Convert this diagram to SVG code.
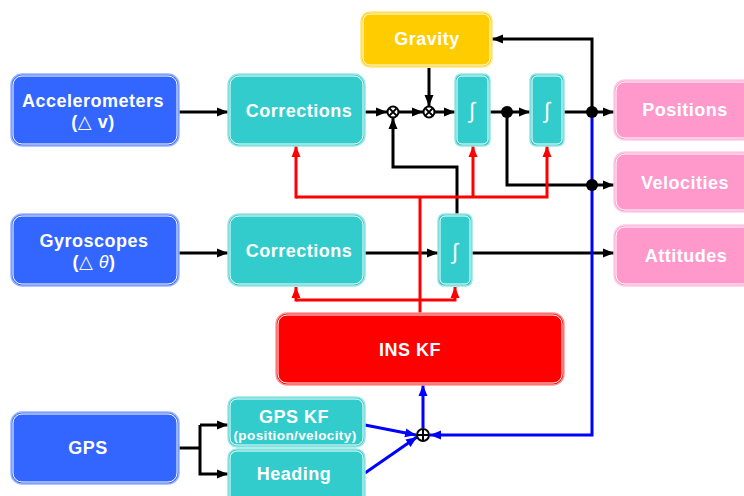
<svg xmlns="http://www.w3.org/2000/svg" width="744" height="496" viewBox="0 0 744 496">
<style>
.t{font-family:"Liberation Sans",Arial,"DejaVu Sans",sans-serif;font-weight:bold;fill:#fff;text-anchor:middle;font-size:18px;letter-spacing:0.5px}
.s{font-size:13.5px;letter-spacing:0.4px}
.int{font-family:"Liberation Sans",Arial,sans-serif;fill:#fff;text-anchor:middle;font-size:22px;font-weight:normal}
.in{fill:none;stroke:#fff;stroke-width:1}
.blue{fill:#3366FF;stroke:#99B3FF;stroke-width:1.5}
.teal{fill:#33CCCC;stroke:#99E6E6;stroke-width:1.5}
.gold{fill:#FFCC00;stroke:#FFE680;stroke-width:1.5}
.pink{fill:#FF99CC;stroke:#FFCCE6;stroke-width:1.5}
.red{fill:#FF0000;stroke:#FF9999;stroke-width:1.5}
.k{fill:none;stroke:#000;stroke-width:3}
.r{fill:none;stroke:#FF0000;stroke-width:3}
.b{fill:none;stroke:#0000FF;stroke-width:3}
.op{fill:#fff;stroke:#000;stroke-width:2}
</style>
<defs>
<marker id="ak" markerUnits="userSpaceOnUse" markerWidth="11" markerHeight="10" refX="11" refY="5" orient="auto"><path d="M0,0.5 L11,5 L0,9.5 z" fill="#000"/></marker>
<marker id="ar" markerUnits="userSpaceOnUse" markerWidth="11" markerHeight="10" refX="11" refY="5" orient="auto"><path d="M0,0.5 L11,5 L0,9.5 z" fill="#FF0000"/></marker>
<marker id="ab" markerUnits="userSpaceOnUse" markerWidth="11" markerHeight="10" refX="11" refY="5" orient="auto"><path d="M0,0.5 L11,5 L0,9.5 z" fill="#0000FF"/></marker>
</defs>

<g id="connectors">
<line class="k" x1="179" y1="112" x2="228" y2="112" marker-end="url(#ak)"/>
<line class="k" x1="365" y1="112" x2="387" y2="112" marker-end="url(#ak)"/>
<line class="k" x1="399" y1="112" x2="423" y2="112" marker-end="url(#ak)"/>
<line class="k" x1="435" y1="112" x2="455" y2="112" marker-end="url(#ak)"/>
<line class="k" x1="490" y1="112" x2="530" y2="112" marker-end="url(#ak)"/>
<line class="k" x1="564" y1="112" x2="614" y2="112" marker-end="url(#ak)"/>
<line class="k" x1="429" y1="68" x2="429" y2="106" marker-end="url(#ak)"/>
<polyline class="k" points="592,112 592,39 492,39" marker-end="url(#ak)"/>
<polyline class="k" points="507,112 507,185 614,185" marker-end="url(#ak)"/>
<polyline class="k" points="457,214 457,167 393,167 393,118" marker-end="url(#ak)"/>
<line class="k" x1="179" y1="253" x2="228" y2="253" marker-end="url(#ak)"/>
<line class="k" x1="365" y1="253" x2="438" y2="253" marker-end="url(#ak)"/>
<line class="k" x1="472" y1="253" x2="614" y2="253" marker-end="url(#ak)"/>
<polyline class="k" points="179,448 200,448"/>
<polyline class="k" points="200,425 200,474 228,474" marker-end="url(#ak)"/>
<line class="k" x1="200" y1="425" x2="228" y2="425" marker-end="url(#ak)"/>
<polyline class="r" points="296,197 547,197 547,146" marker-end="url(#ar)"/>
<line class="r" x1="296" y1="198.5" x2="296" y2="146" marker-end="url(#ar)"/>
<line class="r" x1="473" y1="197" x2="473" y2="146" marker-end="url(#ar)"/>
<line class="r" x1="420" y1="197" x2="420" y2="313"/>
<polyline class="r" points="296,300 455,300 455,287" marker-end="url(#ar)"/>
<line class="r" x1="296" y1="301.5" x2="296" y2="287" marker-end="url(#ar)"/>
<polyline class="b" points="592,112 592,435 430,435" marker-end="url(#ab)"/>
<line class="b" x1="423" y1="428" x2="423" y2="385" marker-end="url(#ab)"/>
<line class="b" x1="365" y1="425" x2="416" y2="435" marker-end="url(#ab)"/>
<line class="b" x1="365" y1="473" x2="417" y2="437" marker-end="url(#ab)"/>
<circle cx="507" cy="112" r="6" fill="#000"/>
<circle cx="592" cy="112" r="6" fill="#000"/>
<circle cx="592" cy="185" r="6" fill="#000"/>
<g id="mul1"><circle class="op" cx="393" cy="112" r="5.5"/><path d="M389.5,108.5 L396.5,115.5 M396.5,108.5 L389.5,115.5" stroke="#000" stroke-width="1.8"/></g>
<g id="mul2"><circle class="op" cx="429" cy="112" r="5.5"/><path d="M425.5,108.5 L432.5,115.5 M432.5,108.5 L425.5,115.5" stroke="#000" stroke-width="1.8"/></g>
<g id="sum"><circle class="op" cx="423" cy="435" r="6"/><path d="M417,435 H429 M423,429 V441" stroke="#000" stroke-width="2"/></g>
</g>

<g id="accelerometers"><rect class="blue" x="11" y="74" width="168" height="72" rx="11"/><rect class="in" x="13" y="76" width="164" height="68" rx="9"/>
<text class="t" x="93" y="107">Accelerometers</text><text class="t" x="93" y="128">(△ v)</text></g>
<g id="corrections1"><rect class="teal" x="228" y="74" width="137" height="72" rx="11"/><rect class="in" x="230" y="76" width="133" height="68" rx="9"/>
<text class="t" x="299" y="117">Corrections</text></g>
<g id="gravity"><rect class="gold" x="361" y="12" width="131" height="55" rx="9"/><rect class="in" x="363" y="14" width="127" height="51" rx="7"/>
<text class="t" x="427" y="45">Gravity</text></g>
<g id="int1"><rect class="teal" x="455" y="74" width="35" height="72" rx="6"/><rect class="in" x="457" y="76" width="31" height="68" rx="5"/>
<text class="int" x="472" y="118">∫</text></g>
<g id="int2"><rect class="teal" x="530" y="74" width="34" height="72" rx="6"/><rect class="in" x="532" y="76" width="30" height="68" rx="5"/>
<text class="int" x="547" y="118">∫</text></g>
<g id="positions"><rect class="pink" x="614" y="80" width="140" height="60" rx="11"/><rect class="in" x="616" y="82" width="136" height="56" rx="9"/>
<text class="t" x="685" y="116">Positions</text></g>
<g id="velocities"><rect class="pink" x="614" y="152" width="140" height="60" rx="11"/><rect class="in" x="616" y="154" width="136" height="56" rx="9"/>
<text class="t" x="685" y="189">Velocities</text></g>
<g id="gyroscopes"><rect class="blue" x="11" y="214" width="168" height="72" rx="11"/><rect class="in" x="13" y="216" width="164" height="68" rx="9"/>
<text class="t" x="94" y="247">Gyroscopes</text><text class="t" x="94" y="268">(△ <tspan style="font-style:italic;font-weight:normal">θ</tspan>)</text></g>
<g id="corrections2"><rect class="teal" x="228" y="214" width="137" height="72" rx="11"/><rect class="in" x="230" y="216" width="133" height="68" rx="9"/>
<text class="t" x="299" y="257">Corrections</text></g>
<g id="int3"><rect class="teal" x="438" y="214" width="34" height="72" rx="6"/><rect class="in" x="440" y="216" width="30" height="68" rx="5"/>
<text class="int" x="455" y="259">∫</text></g>
<g id="attitudes"><rect class="pink" x="614" y="225" width="140" height="61" rx="11"/><rect class="in" x="616" y="227" width="136" height="57" rx="9"/>
<text class="t" x="686" y="262">Attitudes</text></g>
<g id="inskf"><rect class="red" x="276" y="313" width="288" height="72" rx="11"/><rect class="in" x="278" y="315" width="284" height="68" rx="9"/>
<text class="t" x="410" y="356">INS KF</text></g>
<g id="gps"><rect class="blue" x="11" y="412" width="168" height="72" rx="11"/><rect class="in" x="13" y="414" width="164" height="68" rx="9"/>
<text class="t" x="88" y="454">GPS</text></g>
<g id="gpskf"><rect class="teal" x="228" y="397" width="137" height="50" rx="9"/><rect class="in" x="230" y="399" width="133" height="46" rx="7"/>
<text class="t" x="294" y="423">GPS KF</text><text class="t s" x="295" y="440">(position/velocity)</text></g>
<g id="heading"><rect class="teal" x="228" y="449" width="137" height="56" rx="9"/><rect class="in" x="230" y="451" width="133" height="52" rx="7"/>
<text class="t" x="294" y="480">Heading</text></g>
</svg>
